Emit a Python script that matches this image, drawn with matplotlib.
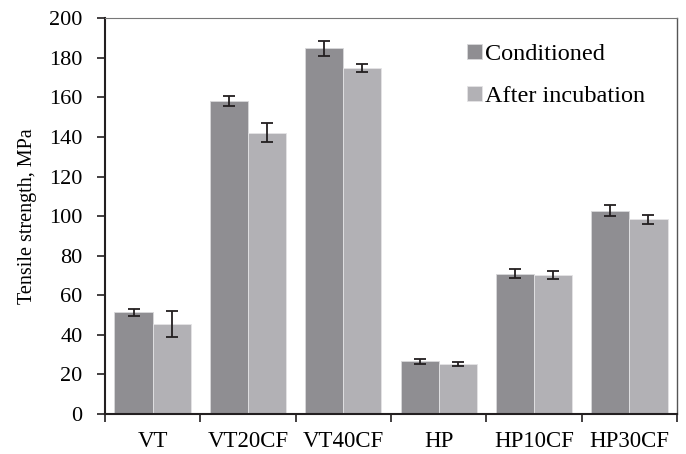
import numpy as np
import matplotlib.pyplot as plt

plt.rcParams['font.family'] = ['Liberation Serif', 'DejaVu Serif']

samples = ["VT", "VT20CF", "VT40CF", "HP", "HP10CF", "HP30CF"]
conditioned = [51.4, 158.1, 184.7, 26.6, 71.0, 102.8]
conditioned_err = [1.7, 2.6, 3.6, 1.3, 2.1, 2.6]
incubated = [45.5, 142.2, 174.6, 25.3, 70.2, 98.3]
incubated_err = [6.4, 4.9, 2.0, 1.2, 2.1, 2.1]

fig = plt.figure(figsize=(6.86, 4.54), dpi=100)
ax = fig.add_axes([0.153, 0.088, 0.834, 0.872])

x = np.arange(len(samples))
w = 0.4
err_kw = dict(ecolor='#231f20', elinewidth=1.3, capsize=4.5, capthick=1.3)
ax.bar(x - w/2, conditioned, w, yerr=conditioned_err, color='#8f8e92',
       edgecolor='#d8d8da', linewidth=0.6, label='Conditioned', error_kw=err_kw)
ax.bar(x + w/2, incubated, w, yerr=incubated_err, color='#b2b1b5',
       edgecolor='#e4e4e6', linewidth=0.6, label='After incubation', error_kw=err_kw)

ax.set_xlim(-0.5, len(samples) - 0.5)
ax.set_ylim(0, 200)
ax.set_yticks(range(0, 201, 20))
ax.set_xticks(x)
ax.set_xticklabels(samples)
ax.set_xticks(np.arange(-0.5, len(samples), 1), minor=True)
ax.tick_params(axis='x', which='major', length=0, pad=12, labelsize=16.5)
ax.tick_params(axis='x', which='minor', length=6, width=1.2, color='#231f20', direction='out')
ax.tick_params(axis='y', length=6, width=1.2, color='#231f20', labelsize=16, pad=10)
ax.set_ylabel('Tensile strength, MPa', fontsize=14.5, labelpad=9)

for s in ['left', 'bottom']:
    ax.spines[s].set_linewidth(1.5)
    ax.spines[s].set_color('#231f20')
ax.spines['right'].set_color('#555555')
ax.spines['right'].set_linewidth(1.0)
ax.spines['top'].set_color('#777777')
ax.spines['top'].set_linewidth(0.8)

ax.legend(loc='upper right', bbox_to_anchor=(0.983, 0.99), frameon=False, fontsize=17.5,
          handlelength=0.6, handleheight=0.6, handletextpad=0.15, labelspacing=0.85)

fig.savefig('out.png', dpi=100)
